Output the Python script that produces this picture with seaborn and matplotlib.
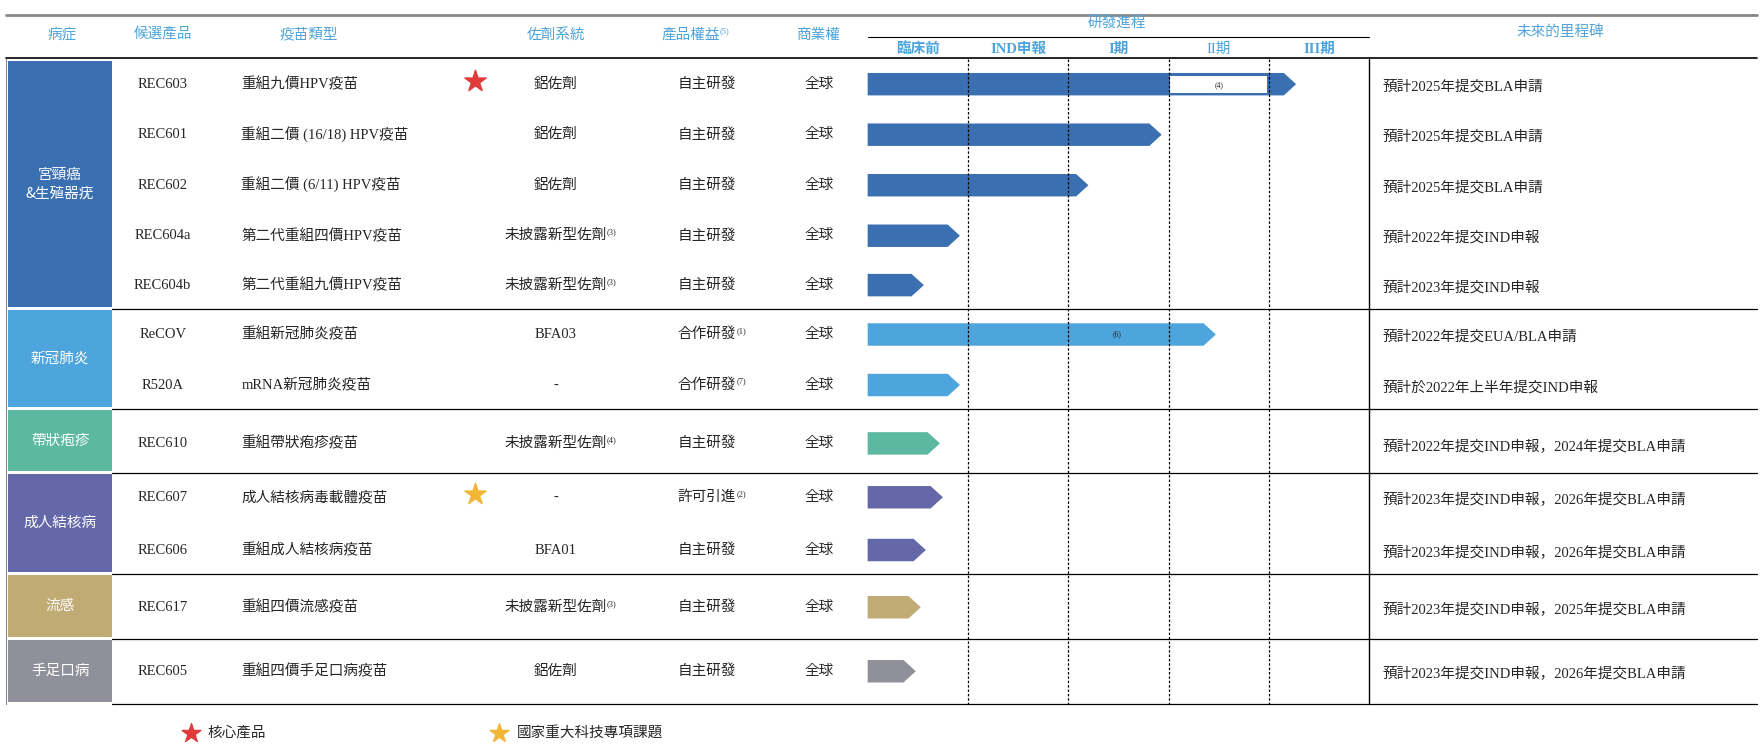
import matplotlib
matplotlib.use("Agg")
import matplotlib.pyplot as plt
from matplotlib import font_manager as fm
from matplotlib.patches import Polygon, Rectangle
import seaborn as sns

sns.set_theme(style="white")
names = sorted({f.name for f in fm.fontManager.ttflist})
cjk = [n for n in names if "CJK" in n]
pref = [n for n in ["Noto Sans CJK TC", "Noto Sans CJK JP", "Noto Sans CJK SC"] if n in names]
CJK = pref[0] if pref else (cjk[0] if cjk else "DejaVu Sans")
serif = "Liberation Serif" if "Liberation Serif" in names else "DejaVu Serif"
plt.rcParams["font.family"] = [serif, CJK]
HF = [CJK]

groups = ["宮頸癌\n&生殖器疣", "新冠肺炎", "帶狀疱疹", "成人結核病", "流感", "手足口病"]
group_sizes = [5, 2, 1, 2, 1, 1]
group_colors = ["#3a70b1", "#4ea4dc", "#5cb8a0", "#6467a8", "#c1ab75", "#8f9099"]
candidates = ["REC603", "REC601", "REC602", "REC604a", "REC604b", "ReCOV", "R520A",
              "REC610", "REC607", "REC606", "REC617", "REC605"]
vaccine_types = ["重組九價HPV疫苗", "重組二價 (16/18) HPV疫苗", "重組二價 (6/11) HPV疫苗",
                 "第二代重組四價HPV疫苗", "第二代重組九價HPV疫苗", "重組新冠肺炎疫苗",
                 "mRNA新冠肺炎疫苗", "重組帶狀疱疹疫苗", "成人結核病毒載體疫苗",
                 "重組成人結核病疫苗", "重組四價流感疫苗", "重組四價手足口病疫苗"]
adjuvants = ["鋁佐劑", "鋁佐劑", "鋁佐劑", "未披露新型佐劑", "未披露新型佐劑",
             "BFA03", "-", "未披露新型佐劑", "-", "BFA01", "未披露新型佐劑", "鋁佐劑"]
adjuvant_notes = ["", "", "", "(3)", "(3)", "", "", "(4)", "", "", "(3)", ""]
rights = ["自主研發", "自主研發", "自主研發", "自主研發", "自主研發", "合作研發",
          "合作研發", "自主研發", "許可引進", "自主研發", "自主研發", "自主研發"]
rights_notes = ["", "", "", "", "", "(1)", "(7)", "", "(2)", "", "", ""]
commercial = ["全球"] * 12
# progress in stage units (0 = start of pre-clinical, 1 stage = one column)
progress = [4.27, 2.93, 2.20, 0.92, 0.56, 3.47, 0.92, 0.72, 0.75, 0.58, 0.53, 0.48]
milestones = ["預計2025年提交BLA申請", "預計2025年提交BLA申請", "預計2025年提交BLA申請",
              "預計2022年提交IND申報", "預計2023年提交IND申報", "預計2022年提交EUA/BLA申請",
              "預計於2022年上半年提交IND申報", "預計2022年提交IND申報，2024年提交BLA申請",
              "預計2023年提交IND申報，2026年提交BLA申請", "預計2023年提交IND申報，2026年提交BLA申請",
              "預計2023年提交IND申報，2025年提交BLA申請", "預計2023年提交IND申報，2026年提交BLA申請"]
stages = ["臨床前", "IND申報", "I期", "II期", "III期"]
headers = ["病症", "候選產品", "疫苗類型", "佐劑系統", "產品權益", "商業權"]
header_x = [55, 145, 275, 495, 615, 730]
row_y = [75, 120, 165, 210, 254, 298, 343, 395, 443, 490, 541, 598]
group_bounds = [53, 275, 364, 421, 511, 569, 627]

W, H = 1568, 673.5
fig = plt.figure(figsize=(17.6, 7.56), dpi=100)
ax = fig.add_axes([0, 0, 1, 1])
ax.set_xlim(0, W); ax.set_ylim(H, 0); ax.axis("off")
hc = "#4ea4dc"
fs = 10.5


def sup(t, note, color="#222222"):
    if note:
        ax.annotate(note, xy=(1, 0.75), xycoords=t, ha="left", va="center",
                    fontsize=6, color=color)


ax.plot([5, 1565], [13, 13], color="#888888", lw=2)
ax.plot([5, 1565], [52, 52], color="black", lw=1.2)
for h, x in zip(headers, header_x):
    t = ax.text(x, 31, h, color=hc, ha="center", va="center", fontsize=fs, family=HF)
    if h == "產品權益":
        sup(t, "(5)", hc)
ax.text(995, 20, "研發進程", color=hc, ha="center", va="center", fontsize=fs, family=HF)
ax.plot([773, 1220], [33, 33], color="black", lw=0.8)
x0, sw = 773, 89.4
for i, s in enumerate(stages):
    ax.text(x0 + sw * (i + 0.5), 44, s, color=hc, ha="center", va="center", fontsize=fs,
            fontweight="bold" if i != 3 else "normal")
ax.text(1390, 28, "未來的里程碑", color=hc, ha="center", va="center", fontsize=fs, family=HF)

for g, (name, col) in enumerate(zip(groups, group_colors)):
    top, bot = group_bounds[g], group_bounds[g + 1]
    ax.add_patch(Rectangle((7, top + 1.5), 93, bot - top - 3, color=col, lw=0))
    ax.text(53.5, (top + bot) / 2, name, color="white", ha="center", va="center",
            fontsize=fs, family=HF, linespacing=1.4)
    ax.plot([100, 1565], [bot, bot], color="black", lw=0.9)
ax.plot([5, 5], [53, 627], color="#888888", lw=0.8)

for i in range(1, 5):
    ax.plot([x0 + sw * i] * 2, [53, 627], color="black", lw=0.9, ls=(0, (2, 1.5)))
ax.plot([1220, 1220], [53, 627], color="black", lw=1)

row_colors = []
for g, n in enumerate(group_sizes):
    row_colors += [group_colors[g]] * n

bh, tip = 20, 11
for i, y in enumerate(row_y):
    ax.text(145, y, candidates[i], ha="center", va="center", fontsize=fs)
    ax.text(215, y, vaccine_types[i], ha="left", va="center", fontsize=fs)
    t = ax.text(495, y, adjuvants[i], ha="center", va="center", fontsize=fs)
    sup(t, adjuvant_notes[i])
    t = ax.text(630, y, rights[i], ha="center", va="center", fontsize=fs)
    sup(t, rights_notes[i])
    ax.text(730, y, commercial[i], ha="center", va="center", fontsize=fs)
    ax.text(1232, y + 2, milestones[i], ha="left", va="center", fontsize=fs)
    end = x0 + sw * progress[i]
    ax.add_patch(Polygon([(x0, y - bh / 2), (end - tip, y - bh / 2), (end, y),
                          (end - tip, y + bh / 2), (x0, y + bh / 2)],
                         closed=True, color=row_colors[i], lw=0))

ax.add_patch(Rectangle((x0 + sw * 3 + 1, row_y[0] - 7.5), sw - 3, 15, facecolor="white",
                       edgecolor="none"))
ax.text(x0 + sw * 3.5, row_y[0] + 1, "(4)", ha="center", va="center", fontsize=5.5)
ax.text(995, row_y[5], "(6)", ha="center", va="center", fontsize=5.5)

ax.scatter([423], [72], marker="*", s=260, color="#e03a3a", zorder=5)
ax.scatter([423], [440], marker="*", s=260, color="#f2b636", zorder=5)
ax.scatter([170], [653], marker="*", s=200, color="#e03a3a")
ax.text(185, 653, "核心產品", ha="left", va="center", fontsize=fs)
ax.scatter([445], [653], marker="*", s=200, color="#f2b636")
ax.text(460, 653, "國家重大科技專項課題", ha="left", va="center", fontsize=fs)

fig.savefig("out.png", dpi=100, facecolor="white")
